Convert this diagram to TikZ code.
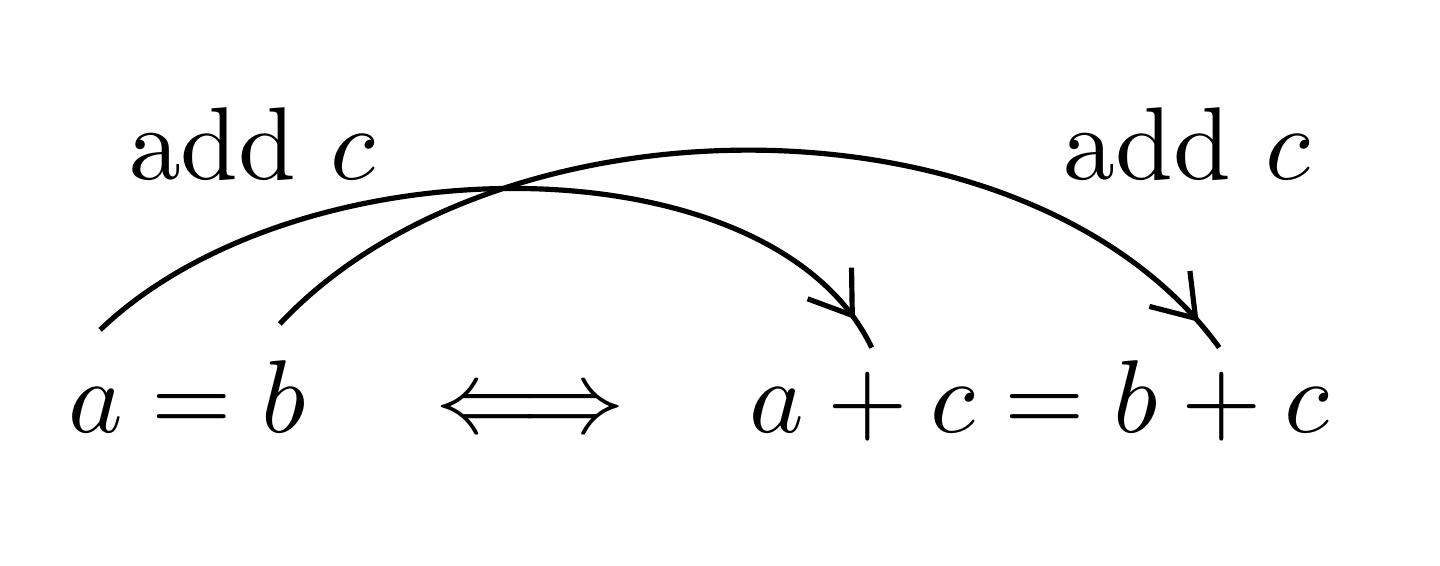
\documentclass[tikz,border=0pt]{standalone}
\usepackage{tikz}
\usetikzlibrary{positioning, arrows.meta, decorations.markings}

\tikzset{
  addarc/.style={line width=0.5pt, postaction={decorate},
    decoration={markings, mark=at position -3.2pt with
      {\arrow{Straight Barb[length=3.8pt,width=5.2pt,line width=0.5pt]}}}}
}

\begin{document}
\begin{tikzpicture}
\useasboundingbox (0,0) rectangle (4.89,1.92);
\node[anchor=base] (lhs) at (0.635,0.45) {$a=b$};
\node[anchor=base] (iff) at (1.80,0.45) {$\Longleftrightarrow$};
\node[anchor=base] (rhs) at (3.53,0.45) {$a+c=b+c$};
\node[anchor=base] (addl) at (0.856,1.31) {add $c$};
\node[anchor=base] (addr) at (4.03,1.31) {add $c$};
\coordinate (fa) at (0.34,0.80);
\coordinate (fb) at (0.95,0.82);
\coordinate (ta) at (2.96,0.74);
\coordinate (tb) at (4.14,0.74);
\draw[addarc] (fa) .. controls (1.02,1.45) and (2.62,1.45) .. (ta);
\draw[addarc] (fb) .. controls (1.70,1.62) and (3.50,1.62) .. (tb);
\end{tikzpicture}
\end{document}
